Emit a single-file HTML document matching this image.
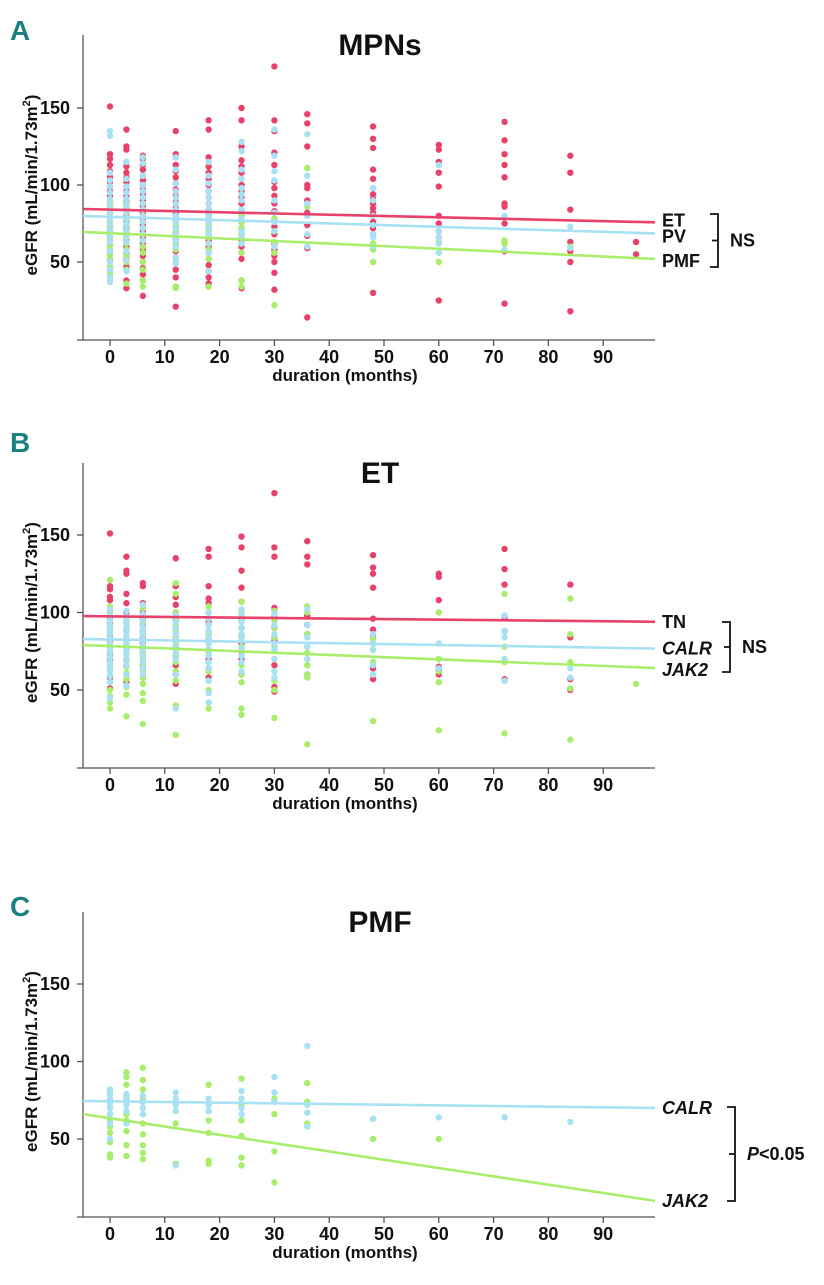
<!DOCTYPE html>
<html><head><meta charset="utf-8">
<style>
body{margin:0;background:#fff;}
svg text{font-family:"Liberation Sans Narrow","Liberation Sans",sans-serif;font-weight:bold;fill:#111;}
</style></head>
<body>
<svg id="chart" width="824" height="1280" viewBox="0 0 824 1280" xmlns="http://www.w3.org/2000/svg"></svg>
<script>
// ---- data ----
const months = [0,3,6,12,18,24,30,36,48,60,72,84,96];
const xTickLabels = [0,10,20,30,40,50,60,70,80,90];
const yTickLabels = [150,100,50];
// Panel A
const aET = [[151,120,117,113,109,105,102,99,96,93,90,87,85,82,79,76,73,70,67,64,61,58,55,51,47,45],[136,125,123,115,112,108,105,102,99,96,93,90,87,84,80,76,72,68,64,60,56,52,47,38,33],[119,117,113,110,106,103,100,97,94,90,86,82,78,74,70,66,62,58,54,50,46,42,38,28],[135,120,118,113,109,105,101,97,93,89,85,81,77,73,69,65,61,57,53,45,40,34,21],[142,136,118,112,108,104,100,96,92,88,84,80,76,72,68,64,60,56,52,48,44,40,36],[150,142,125,116,112,108,104,100,96,92,88,84,80,76,72,68,64,60,56,52,38,33],[177,142,135,121,113,102,98,93,88,83,78,73,68,62,58,54,50,43,32],[146,140,125,100,98,90,82,74,67,59,14],[138,130,124,110,104,98,94,91,88,85,82,76,72,68,61,30],[126,123,115,108,99,80,75,70,66,25],[141,129,120,113,105,88,86,75,62,57,23],[119,108,84,63,57,50,18],[63,55]];
const aPV = [[135,132,108,103,99,95,91,87,83,79,75,71,67,63,57,50,45,40,37],[115,104,99,95,91,87,83,79,75,71,67,63,57,51,44],[118,114,106,100,96,92,88,84,80,76,72,68,64],[118,110,101,96,92,88,84,80,76,72,68,64,60,53,49],[115,106,101,96,92,88,84,80,76,72,68,62,56,44],[128,122,110,104,98,94,90,84,78,70,66,62],[136,119,109,103,90,82,76,70,60],[133,106,88,80,68,60],[98,90,80,74,68,66,60],[113,113,70,66,62,56],[80,58],[73,59],[]];
const aPMF = [[90,88,85,82,79,76,73,70,67,64,61,58,55,52,50,47,42,38],[88,86,82,78,74,70,66,62,58,54,50,45,36],[88,84,80,76,72,68,64,60,56,50,45,38,34],[84,80,74,70,66,62,58,50,34,33],[82,78,74,70,66,62,58,52,34],[84,80,76,72,68,62,56,38,34],[78,70,63,56,22],[111,86],[62,58,50],[63,50],[64,62],[60],[]];
// Panel B
const bTN = [[151,117,115,110,108,101,97,93,89,85,81,77,73,69,64,58,51],[136,127,125,112,106,100,94,88,82,76,70,66,60,55],[119,117,106,100,96,92,88,84,80,76,72,66,58],[135,117,110,105,100,95,90,84,78,72,66,60,54],[141,136,117,109,106,100,94,88,82,76,70,64,58],[149,142,127,116,107,101,95,90,85,80,75,70,60],[177,142,136,103,97,90,82,66,52,49],[146,136,131,98,92,86,78,60],[137,129,125,116,96,89,85,80,64,57],[125,123,108,65,63,60],[141,128,118,97,88,57],[118,84,57,50],[]];
const bCALR = [[102,98,95,92,89,86,83,80,77,74,71,68,65,62,59,55,45],[101,97,94,91,88,85,82,79,76,73,70,66,60,53],[105,99,95,91,88,85,82,79,76,72,68,64,60],[98,94,90,86,82,78,74,70,60,38],[100,96,92,88,84,80,76,72,68,64,56,48,42],[102,98,94,90,86,82,77,72,68,62],[99,92,86,80,76,70,62,58],[102,92,84,78,70],[86,80,76,66,60],[80,64],[98,88,84,70,56],[64,58],[]];
const bJAK2 = [[121,104,100,95,91,87,83,79,75,71,67,63,59,55,50,46,42,38],[96,93,89,85,81,77,73,69,65,61,57,52,47,33],[103,98,94,90,86,82,78,74,70,66,62,58,54,48,43,28],[119,112,100,96,92,88,84,80,76,72,68,62,56,40,21],[104,100,96,92,86,80,74,68,62,56,50,42,38],[107,101,96,90,84,78,72,66,60,55,38,34],[101,95,90,84,78,70,62,56,50,32],[104,100,86,74,66,60,58,15],[83,76,68,60,30],[100,70,62,55,24],[112,78,68,56,22],[109,86,68,51,18],[54]];
// Panel C
const cCALR = [[82,79,76,73,70,66,60,50],[79,76,72,68,60],[78,74,70,66],[80,76,72,68,33],[76,72,68],[81,76,70,66],[90,80,74],[110,72,67,58],[63],[64],[64],[61],[]];
const cJAK2 = [[80,75,70,66,62,58,54,48,40,38],[93,90,85,78,72,66,62,55,46,39],[96,88,82,76,70,66,60,53,46,41,37],[72,60,34,33],[85,72,68,62,54,36,34],[89,76,72,62,52,38,33],[76,66,42,22],[86,74,67,60],[50],[50],[],[],[]];
// regression: [intercept, slope]
const aFits = [[84.0,-0.083],[79.4,-0.109],[68.7,-0.168]];
const bFits = [[97.5,-0.035],[82.6,-0.059],[78.3,-0.142]];
const cFits = [[74.3,-0.043],[63.4,-0.536]];

const RED='#e8416a', BLUE='#a8e0f4', GREEN='#a8ee6c';
const NS='http://www.w3.org/2000/svg';
const svg=document.getElementById('chart');
function el(tag,attrs,parent){const e=document.createElementNS(NS,tag);for(const k in attrs)e.setAttribute(k,attrs[k]);(parent||svg).appendChild(e);return e;}
function xS(m){return 110+5.48*m;}
const X0=83, X1=655;

function panel(cfg){
  const g=el('g',{});
  
  
  const yS=v=>cfg.y150+(150-v)*cfg.ppu;
  const L=el('text',{x:10,y:cfg.letterY,'font-size':28,style:'fill:#1a8080'},g);L.textContent=cfg.letter;
  
  
  const T=el('text',{x:380,y:cfg.top+20,'font-size':30,'text-anchor':'middle'},g);T.textContent=cfg.title;
  
  
  const ya=el('line',{x1:X0,y1:cfg.top,x2:X0,y2:cfg.axisY,stroke:'#555','stroke-width':1.3},g);
  
  
  const xa=el('line',{x1:X0-6,y1:cfg.axisY,x2:X1,y2:cfg.axisY,stroke:'#555','stroke-width':1.3},g);
  
  
  yTickLabels.forEach(v=>{
    el('line',{x1:X0-6,y1:yS(v),x2:X0,y2:yS(v),stroke:'#555','stroke-width':1.3},g);
    const t=el('text',{x:70,y:yS(v)+6,'font-size':18,'text-anchor':'end'},g);t.textContent=v;
    
    
  });
  xTickLabels.forEach(m=>{
    el('line',{x1:xS(m),y1:cfg.axisY,x2:xS(m),y2:cfg.axisY+6,stroke:'#555','stroke-width':1.3},g);
    const t=el('text',{x:xS(m),y:cfg.axisY+23,'font-size':18,'text-anchor':'middle'},g);t.textContent=m;
    
    
  });
  const xt=el('text',{x:345,y:cfg.axisY+41,'font-size':17,'text-anchor':'middle'},g);xt.textContent='duration (months)';
  
  
  const cy=(yS(150)+yS(50))/2;
  const yt=el('text',{x:0,y:0,'font-size':17,'text-anchor':'middle',transform:`translate(37,${cy}) rotate(-90)`},g);
  yt.innerHTML='eGFR (mL/min/1.73m<tspan dy="-7" font-size="11">2</tspan><tspan dy="7">)</tspan>';
  
  
  cfg.series.forEach(s=>{
    s.data.forEach((vals,i)=>{
      vals.forEach(v=>{
        const c=el('circle',{cx:xS(months[i]),cy:yS(v),r:3.2,fill:s.color},g);
        
        
      });
    });
  });
  const mL=(X0-110)/5.48, mR=(X1-110)/5.48;
  cfg.fits.forEach((f,i)=>{
    const s=cfg.fitStyle[i];
    const ln=el('line',{x1:X0,y1:yS(f[0]+f[1]*mL),x2:X1,y2:yS(f[0]+f[1]*mR),stroke:s.color,'stroke-width':2.6},g);
    
    
    const t=el('text',{x:X1+7,y:yS(f[0]+f[1]*mR)+6+(s.dy||0),'font-size':18,'font-style':s.italic?'italic':'normal'},g);t.textContent=s.label;
    
    
  });
  const b=cfg.bracket;
  const bp=el('path',{d:`M${b.x-8},${b.y1}H${b.x}V${b.y2}H${b.x-8}M${b.x},${(b.y1+b.y2)/2}H${b.x-6}`,fill:'none',stroke:'#111','stroke-width':1.8},g);
  
  
  const bt=el('text',{x:b.x+12,y:(b.y1+b.y2)/2+6,'font-size':18},g);bt.innerHTML=b.text;
  
  
}

panel({name:'panel-a-mpns',letter:'A',letterY:40,title:'MPNs',top:35,y150:108,ppu:1.54,axisY:340,
  series:[{key:'et',color:RED,data:aET},{key:'pmf',color:GREEN,data:aPMF},{key:'pv',color:BLUE,data:aPV}],
  fits:aFits,fitStyle:[{key:'et',color:RED,label:'ET',dy:-2},{key:'pv',color:BLUE,label:'PV',dy:3},{key:'pmf',color:GREEN,label:'PMF',dy:2}],
  bracket:{x:718,y1:214,y2:267,text:'NS'}});
panel({name:'panel-b-et',letter:'B',letterY:452,title:'ET',top:463,y150:535,ppu:1.55,axisY:768,
  series:[{key:'tn',color:RED,data:bTN},{key:'jak2',color:GREEN,data:bJAK2},{key:'calr',color:BLUE,data:bCALR}],
  fits:bFits,fitStyle:[{key:'tn',color:RED,label:'TN'},{key:'calr',color:BLUE,label:'CALR',italic:true},{key:'jak2',color:GREEN,label:'JAK2',italic:true,dy:2}],
  bracket:{x:730,y1:622,y2:672,text:'NS'}});
panel({name:'panel-c-pmf',letter:'C',letterY:916,title:'PMF',top:912,y150:984,ppu:1.55,axisY:1217,
  series:[{key:'jak2',color:GREEN,data:cJAK2},{key:'calr',color:BLUE,data:cCALR}],
  fits:cFits,fitStyle:[{key:'calr',color:BLUE,label:'CALR',italic:true},{key:'jak2',color:GREEN,label:'JAK2',italic:true}],
  bracket:{x:735,y1:1107,y2:1201,text:'<tspan font-style="italic">P</tspan>&lt;0.05'}});
</script>
</body></html>
